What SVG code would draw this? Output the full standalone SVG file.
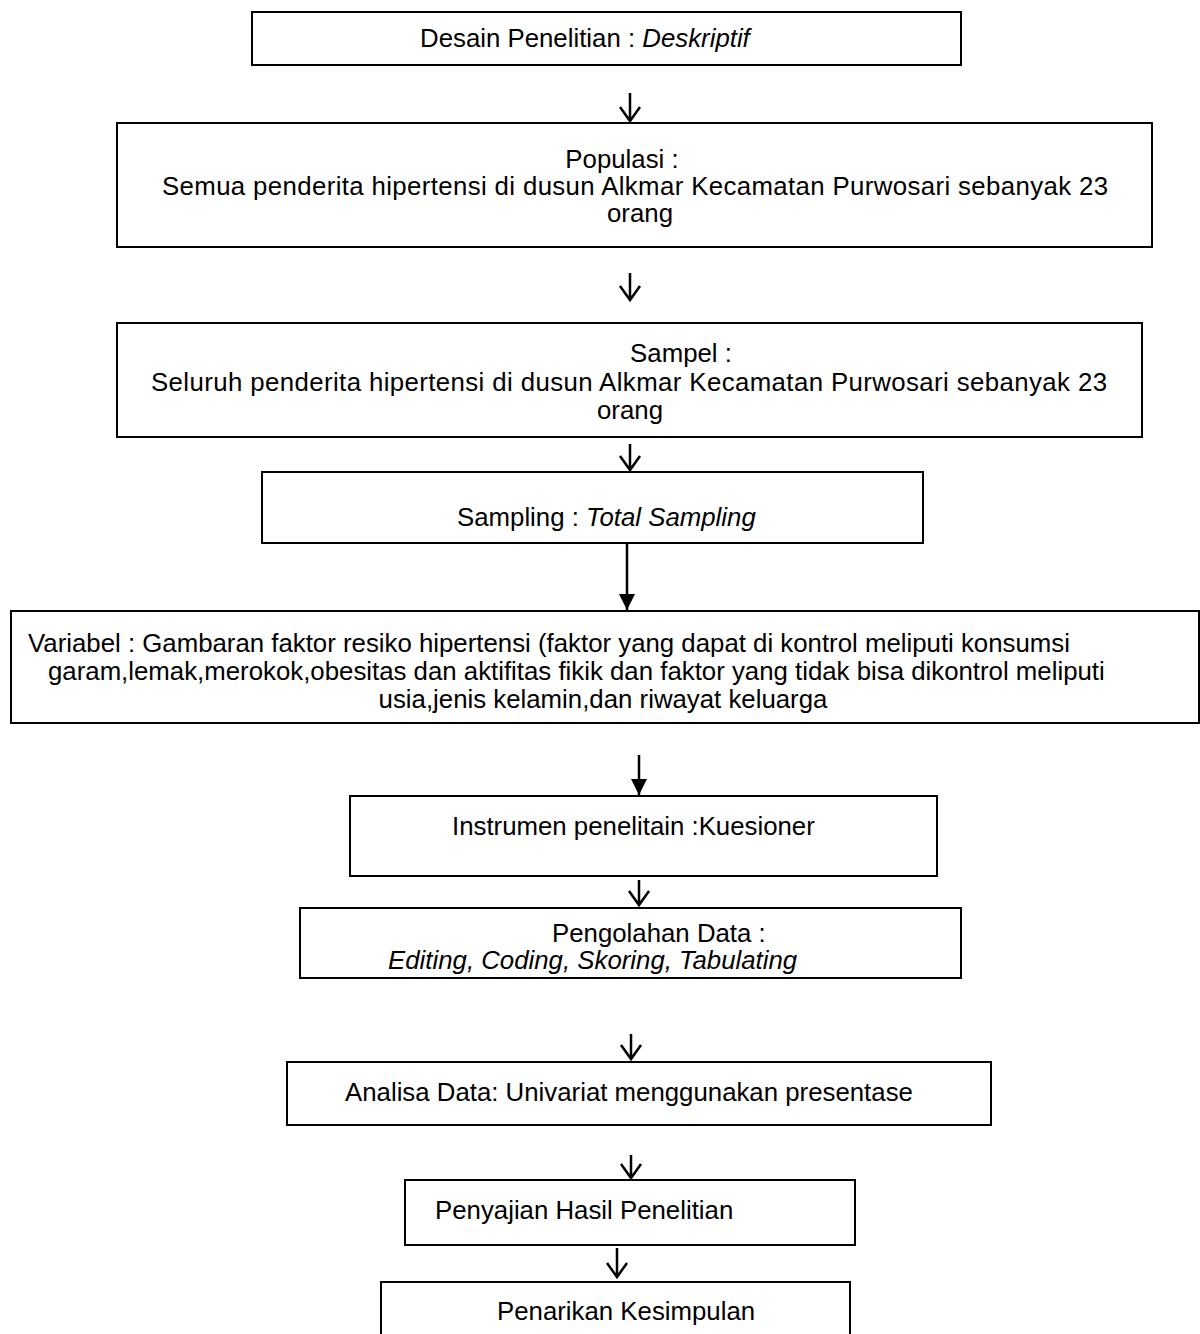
<svg xmlns="http://www.w3.org/2000/svg" width="1200" height="1334" viewBox="0 0 1200 1334">
<style>
.box{fill:#fff;stroke:#000;stroke-width:2}
.t{font-family:"Liberation Sans",Arial,sans-serif;font-size:25.8px;fill:#000}
.c{text-anchor:middle}
.i{font-style:italic}
.open{fill:none;stroke:#000;stroke-width:2.5;stroke-linecap:butt}
.solid{fill:none;stroke:#000;stroke-width:2.5}
</style>
<defs>
<marker id="fa" markerWidth="16" markerHeight="16" viewBox="0 0 16 16" refX="16" refY="8" orient="auto" markerUnits="userSpaceOnUse">
<path d="M0,0 L16,8 L0,16 Z" fill="#000"/>
</marker>
</defs>
<rect width="1200" height="1334" fill="#fff"/>
<g id="n1"><rect class="box" x="252" y="12" width="709" height="53"/>
<text class="t" x="420" y="47">Desain Penelitian : <tspan class="i">Deskriptif</tspan></text></g>
<g id="n2"><rect class="box" x="117" y="123" width="1035" height="124"/>
<text class="t c" x="622" y="168">Populasi :</text>
<text class="t" x="162" y="195" textLength="946" lengthAdjust="spacing">Semua penderita hipertensi di dusun Alkmar Kecamatan Purwosari sebanyak 23</text>
<text class="t c" x="640" y="222">orang</text></g>
<g id="n3"><rect class="box" x="117" y="323" width="1025" height="114"/>
<text class="t c" x="681" y="362">Sampel :</text>
<text class="t" x="151" y="391" textLength="956" lengthAdjust="spacing">Seluruh penderita hipertensi di dusun Alkmar Kecamatan Purwosari sebanyak 23</text>
<text class="t c" x="630" y="419">orang</text></g>
<g id="n4"><rect class="box" x="262" y="472" width="661" height="71"/>
<text class="t" x="457" y="526">Sampling : <tspan class="i">Total Sampling</tspan></text></g>
<g id="n5"><rect class="box" x="11" y="611" width="1188" height="112"/>
<text class="t" x="28" y="652">Variabel : Gambaran faktor resiko hipertensi (faktor yang dapat di kontrol meliputi konsumsi</text>
<text class="t" x="48" y="680">garam,lemak,merokok,obesitas dan aktifitas fikik dan faktor yang tidak bisa dikontrol meliputi</text>
<text class="t c" x="603" y="708">usia,jenis kelamin,dan riwayat keluarga</text></g>
<g id="n6"><rect class="box" x="350" y="796" width="587" height="80"/>
<text class="t" x="452" y="835">Instrumen penelitain :Kuesioner</text></g>
<g id="n7"><rect class="box" x="300" y="908" width="661" height="70"/>
<text class="t" x="552" y="942">Pengolahan Data :</text>
<text class="t i" x="388" y="969">Editing, Coding, Skoring, Tabulating</text></g>
<g id="n8"><rect class="box" x="287" y="1062" width="704" height="63"/>
<text class="t" x="345" y="1101">Analisa Data: Univariat menggunakan presentase</text></g>
<g id="n9"><rect class="box" x="405" y="1180" width="450" height="65"/>
<text class="t" x="435" y="1219">Penyajian Hasil Penelitian</text></g>
<g id="n10"><rect class="box" x="381" y="1282" width="469" height="80"/>
<text class="t" x="497" y="1320">Penarikan Kesimpulan</text></g>
<g id="connectors">
<path class="open" d="M630,93 V121 M620,107 L630,121 L640,107"/>
<path class="open" d="M630,273 V300 M620,286 L630,300 L640,286"/>
<path class="open" d="M630,444 V470 M620,456 L630,470 L640,456"/>
<path class="solid" d="M627,544 V610" marker-end="url(#fa)"/>
<path class="solid" d="M639,755 V795" marker-end="url(#fa)"/>
<path class="open" d="M639,880 V905 M629,891 L639,905 L649,891"/>
<path class="open" d="M631,1034 V1059 M621,1045 L631,1059 L641,1045"/>
<path class="open" d="M631,1155 V1178 M621,1164 L631,1178 L641,1164"/>
<path class="open" d="M617,1248 V1277 M607,1263 L617,1277 L627,1263"/>
</g>
</svg>
